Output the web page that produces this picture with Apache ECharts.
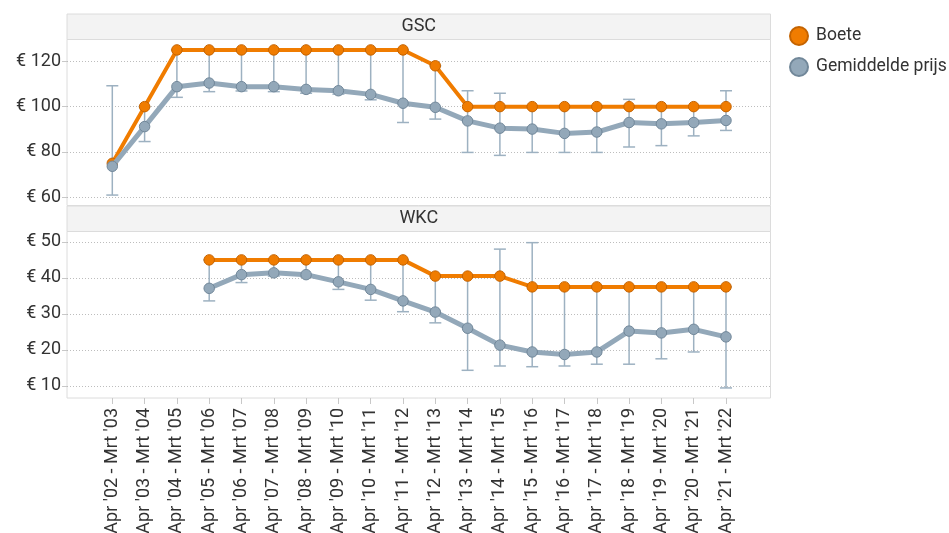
<!DOCTYPE html>
<html>
<head>
<meta charset="utf-8">
<script src="https://cdn.jsdelivr.net/npm/echarts@6/dist/echarts.min.js"></script>
<style>html,body{margin:0;padding:0;background:#fff}#c{width:949px;height:533px}</style>
</head>
<body>
<div id="c"></div>
<script>
var categories = ["Apr '02 - Mrt '03","Apr '03 - Mrt '04","Apr '04 - Mrt '05","Apr '05 - Mrt '06","Apr '06 - Mrt '07","Apr '07 - Mrt '08","Apr '08 - Mrt '09","Apr '09 - Mrt '10","Apr '10 - Mrt '11","Apr '11 - Mrt '12","Apr '12 - Mrt '13","Apr '13 - Mrt '14","Apr '14 - Mrt '15","Apr '15 - Mrt '16","Apr '16 - Mrt '17","Apr '17 - Mrt '18","Apr '18 - Mrt '19","Apr '19 - Mrt '20","Apr '20 - Mrt '21","Apr '21 - Mrt '22"];

var gscBoete = [75,100,125,125,125,125,125,125,125,125,118,100,100,100,100,100,100,100,100,100];
var gscPrijs = [73.7,91.2,108.8,110.4,108.8,108.8,107.6,107.0,105.4,101.5,99.7,93.7,90.5,90.1,88.2,88.8,93.0,92.4,93.0,93.9];
var gscLow   = [61,84.6,104.1,106.6,106.9,106.6,105.9,105.5,103,93,94.5,79.8,78.5,79.8,79.8,79.8,82.2,82.8,87.1,89.5];
var gscHigh  = [109.2,100,125,125,125,125,125,125,125,125,118,107,105.9,100,100,100,103.2,100,100,107];

var wkcBoete = [null,null,null,45,45,45,45,45,45,45,40.5,40.5,40.5,37.5,37.5,37.5,37.5,37.5,37.5,37.5];
var wkcPrijs = [null,null,null,37.1,40.9,41.4,40.9,38.9,36.8,33.6,30.5,26.0,21.3,19.4,18.7,19.4,25.2,24.7,25.7,23.6];
var wkcLow   = [null,null,null,33.6,38.7,40.5,40.3,36.8,33.8,30.6,27.5,14.3,15.5,15.3,15.5,16.0,16.0,17.5,19.4,9.4];
var wkcHigh  = [null,null,null,45,45,45,45,45,45,45,40.5,40.5,48.0,49.8,37.5,37.5,37.5,37.5,37.5,37.5];

var gscTicks = [60,80,100,120];
var wkcTicks = [10,20,30,40,50];
var panels = ["GSC","WKC"];

var ORANGE = '#f07c00', GRAY = '#93a8b9', ERR = '#9db1c1';
var FONT = 'Roboto';
var FS = 18;

function errData(lo, hi){
  var d = [];
  for (var i = 0; i < lo.length; i++) if (lo[i] != null) d.push([i, lo[i], hi[i]]);
  return d;
}
function renderErr(params, api){
  var x = api.value(0), lo = api.value(1), hi = api.value(2);
  var a = api.coord([x, lo]), b = api.coord([x, hi]);
  var hw = 6;
  var st = {stroke: ERR, lineWidth: 1.5, fill: null};
  return {type:'group', children:[
    {type:'line', shape:{x1:a[0],y1:a[1],x2:b[0],y2:b[1]}, style:st},
    {type:'line', shape:{x1:a[0]-hw,y1:a[1],x2:a[0]+hw,y2:a[1]}, style:st},
    {type:'line', shape:{x1:b[0]-hw,y1:b[1],x2:b[0]+hw,y2:b[1]}, style:st}
  ]};
}

var FL = 67, FR = 949-770.5, DL = 112.3, DR = 949-726;
var T1 = 39.5, H1 = 166, T2 = 231.5, H2 = 166.5;
var yr1 = [56.4, 129.6], yr2 = [6.6, 52.9];

function frameY(gi, r, ticks){
  return {gridIndex: gi, type:'value', min:r[0], max:r[1],
    axisLine:{show:false},
    axisTick:{show:true, length:5, lineStyle:{color:'#c8c8c8'}, customValues: ticks},
    axisLabel:{show:true, customValues: ticks, formatter:'€ {value}', fontFamily:FONT, fontSize:FS, color:'#333', margin:6},
    splitLine:{show:true, lineStyle:{color:'#bdbdbd', type:[1,2], width:1}}};
}
function dataY(gi, r){
  return {gridIndex: gi, type:'value', min:r[0], max:r[1], show:false, splitLine:{show:false}};
}
function lineSeries(name, xi, yi, data, color, border, w, z){
  return {name:name, type:'line', xAxisIndex:xi, yAxisIndex:yi, data:data, z:z,
    symbol:'circle', symbolSize:10.5, showSymbol:true, connectNulls:false,
    lineStyle:{color:color, width:w},
    itemStyle:{color:color, borderColor:border, borderWidth:1},
    emphasis:{disabled:true}, animation:false};
}
function grid(l, r, t, h, frame){
  var g = {left:l, right:r, top:t, height:h, containLabel:false, outerBoundsMode:'none'};
  if (frame) { g.show = true; g.borderColor = '#dcdcdc'; g.borderWidth = 1; }
  return g;
}

var option = {
  animation:false,
  textStyle:{fontFamily:FONT},
  legend:{
    data:['Boete','Gemiddelde prijs'], orient:'vertical', left:784, top:21,
    icon:'circle', itemWidth:18, itemHeight:18, itemGap:11,
    textStyle:{fontFamily:FONT, fontSize:17.5, color:'#333', padding:[0,0,0,3]}, selectedMode:false
  },
  grid:[ grid(FL, FR, T1, H1, true), grid(DL, DR, T1, H1, false), grid(FL, FR, T2, H2, true), grid(DL, DR, T2, H2, false) ],
  xAxis:[
    {gridIndex:0, type:'category', data:categories, show:false},
    {gridIndex:1, type:'category', data:categories, boundaryGap:false, show:false},
    {gridIndex:2, type:'category', data:categories, show:false},
    {gridIndex:3, type:'category', data:categories, boundaryGap:false,
      axisLine:{show:false},
      axisTick:{show:true, length:6, lineStyle:{color:'#c8c8c8'}},
      axisLabel:{rotate:90, interval:0, fontFamily:FONT, fontSize:FS, color:'#333', margin:10},
      splitLine:{show:false}}
  ],
  yAxis:[ frameY(0, yr1, gscTicks), dataY(1, yr1), frameY(2, yr2, wkcTicks), dataY(3, yr2) ],
  graphic:[
    {type:'rect', shape:{x:FL, y:14, width:770.5-FL, height:25.5}, style:{fill:'#f3f3f3', stroke:'#dcdcdc', lineWidth:1}, z:-1},
    {type:'text', x:(FL+770.5)/2, y:26.5, style:{text:panels[0], fontFamily:FONT, fontSize:FS, fill:'#333', textAlign:'center', textVerticalAlign:'middle'}},
    {type:'rect', shape:{x:FL, y:206, width:770.5-FL, height:25.5}, style:{fill:'#f3f3f3', stroke:'#dcdcdc', lineWidth:1}, z:-1},
    {type:'text', x:(FL+770.5)/2, y:218.5, style:{text:panels[1], fontFamily:FONT, fontSize:FS, fill:'#333', textAlign:'center', textVerticalAlign:'middle'}}
  ],
  series:[
    {name:'err1', type:'custom', xAxisIndex:1, yAxisIndex:1, data:errData(gscLow, gscHigh), renderItem:renderErr, encode:{x:0, y:[1,2]}, z:1, silent:true},
    lineSeries('Boete', 1, 1, gscBoete, ORANGE, '#c46300', 4, 2),
    lineSeries('Gemiddelde prijs', 1, 1, gscPrijs, GRAY, '#718799', 5, 3),
    {name:'err2', type:'custom', xAxisIndex:3, yAxisIndex:3, data:errData(wkcLow, wkcHigh), renderItem:renderErr, encode:{x:0, y:[1,2]}, z:1, silent:true},
    lineSeries('Boete', 3, 3, wkcBoete, ORANGE, '#c46300', 4, 2),
    lineSeries('Gemiddelde prijs', 3, 3, wkcPrijs, GRAY, '#718799', 5, 3)
  ]
};
var chart = echarts.init(document.getElementById('c'), null, {renderer:'canvas'});
chart.setOption(option);
</script>
</body>
</html>
